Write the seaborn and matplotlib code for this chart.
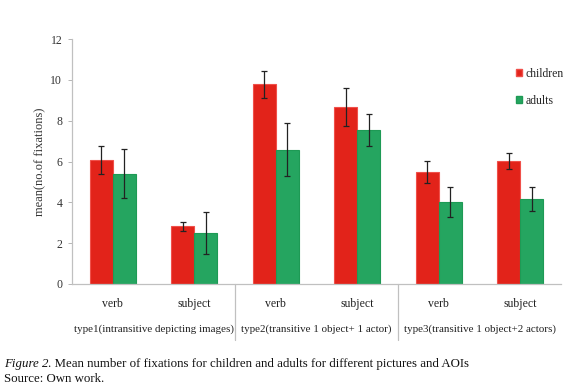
import matplotlib
matplotlib.use("Agg")
import matplotlib.pyplot as plt
import matplotlib.transforms as mtransforms
from matplotlib.patches import Patch
import seaborn as sns
import pandas as pd

# data
aois = ["verb", "subject", "verb ", "subject ", "verb  ", "subject  "]
tick_labels = ["verb", "subject", "verb", "subject", "verb", "subject"]
groups = ["type1(intransitive depicting images)",
          "type2(transitive 1 object+ 1 actor)",
          "type3(transitive 1 object+2 actors)"]
children = [6.07, 2.83, 9.78, 8.68, 5.49, 6.02]
children_err = [0.70, 0.23, 0.66, 0.94, 0.52, 0.39]
adults = [5.39, 2.50, 6.57, 7.54, 4.02, 4.17]
adults_err = [1.20, 1.04, 1.30, 0.77, 0.72, 0.57]

df = pd.DataFrame({
    "aoi": aois * 2,
    "mean": children + adults,
    "who": ["children"] * 6 + ["adults"] * 6,
})

sns.set_style("white")
plt.rcParams["font.family"] = ["Liberation Serif", "DejaVu Serif"]

red = "#E2231A"
green = "#25A560"

fig = plt.figure(figsize=(5.8, 3.91), dpi=100)
ax = fig.add_axes([72/580, 1-284/391, (561-72)/580, (284-39)/391])

sns.barplot(data=df, x="aoi", y="mean", hue="who", order=aois,
            hue_order=["children", "adults"], palette=[red, green],
            width=0.56, errorbar=None, saturation=1, legend=False,
            edgecolor=None, linewidth=0.8, ax=ax)

# bars: first 6 patches children, next 6 adults
for i, p in enumerate(ax.patches[:12]):
    p.set_edgecolor("#F0504A" if i < 6 else "#1E9A55")
    xc = p.get_x() + p.get_width() / 2
    err = children_err[i] if i < 6 else adults_err[i - 6]
    ax.errorbar(xc, p.get_height(), yerr=err, color="#222222", lw=0.9,
                capsize=2, capthick=0.9, fmt="none")

ax.set_ylim(0, 12)
ax.set_yticks(range(0, 13, 2))
ax.set_xlim(-0.5, 5.5)
ax.set_xticks(range(6))
ax.set_xticklabels(tick_labels)
ax.set_xlabel("")
ax.set_ylabel("mean(no.of fixations)", fontsize=9, color="#333333")
ax.tick_params(axis="x", length=0, pad=10, labelsize=8.5, colors="#222222")
ax.tick_params(axis="y", length=3, width=0.6, color="#aaaaaa", pad=4,
               labelsize=8.5, labelcolor="#333333", left=True)
ax.yaxis.set_label_coords(-26/489, 0.5)

for s in ["top", "right"]:
    ax.spines[s].set_visible(False)
for s in ["left", "bottom"]:
    ax.spines[s].set_color("#c0c0c0")
    ax.spines[s].set_linewidth(0.9)

# group separators and labels under the axis
trans = mtransforms.blended_transform_factory(ax.transData, ax.transAxes)
for xs in [1.5, 3.5]:
    ax.plot([xs, xs], [0, -0.23], transform=trans, color="#c0c0c0",
            lw=0.9, clip_on=False)
for k, g in enumerate(groups):
    ax.text(2 * k + 0.5, -0.185, g, transform=trans, ha="center", va="center",
            fontsize=7.9, color="#222222")

handles = [Patch(facecolor=red, edgecolor="#F0504A"),
           Patch(facecolor=green, edgecolor="#1E9A55")]
ax.legend(handles, ["children", "adults"], loc="upper left",
          bbox_to_anchor=(516/580, 1-68/391), bbox_transform=fig.transFigure,
          frameon=False, handlelength=0.55, handleheight=0.55,
          handletextpad=0.25, labelspacing=1.25, fontsize=8.5,
          borderaxespad=0, borderpad=0)

# caption: italic "Figure 2" followed by normal text
cap = fig.text(4/580, 1-364/391, "Figure 2", style="italic", fontsize=9.3,
               va="center", color="#111111")
fig.canvas.draw()
x_end = cap.get_window_extent().x1 / fig.bbox.width
fig.text(x_end, 1-364/391,
         ". Mean number of fixations for children and adults for different pictures and AOIs",
         fontsize=9.3, va="center", color="#111111")
fig.text(4/580, 1-379/391, "Source: Own work.", fontsize=9.3, va="center",
         color="#111111")

fig.savefig("out.png", dpi=100)
